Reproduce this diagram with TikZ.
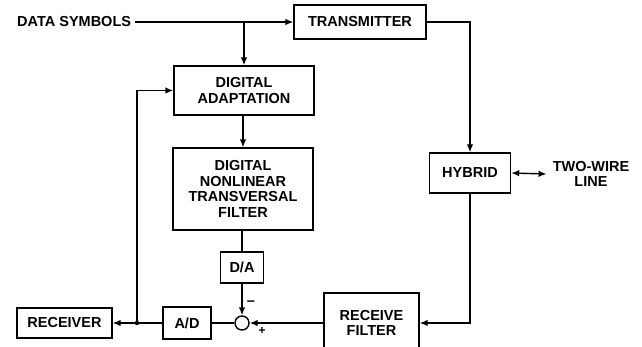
\documentclass[tikz,border=0pt]{standalone}
\usepackage{fontspec}
\setmainfont{Liberation Sans}
\usetikzlibrary{arrows.meta,calc}
\begin{document}
\begin{tikzpicture}[x=1pt,y=-1pt,
  every node/.style={font=\fontsize{14.5}{15.5}\selectfont\bfseries},
  blk/.style={draw,line width=1.4pt,inner sep=0pt,align=center},
  conn/.style={line width=1.4pt},
  tip/.tip={Latex[length=8pt,width=6.5pt]},
  arr/.style={conn,-tip},
  lbl/.style={inner sep=0pt,align=center}]
\useasboundingbox (0,0) rectangle (642,347);
\clip (0,0) rectangle (642,347);
\node[lbl,anchor=west] (ds) at (17,22) {DATA SYMBOLS};
\node[blk,minimum width=132,minimum height=34] (tx) at (360,22) {TRANSMITTER};
\node[blk,minimum width=140,minimum height=49] (da) at (244,90.5) {DIGITAL\\ADAPTATION};
\node[blk,minimum width=140,minimum height=82] (nl) at (243,189) {DIGITAL\\NONLINEAR\\TRANSVERSAL\\FILTER};
\node[blk,minimum width=43,minimum height=31] (dac) at (242,267.5) {D/A};
\node[draw,circle,line width=1.4pt,minimum size=14,inner sep=0pt] (sum) at (242,323) {};
\node[blk,minimum width=48,minimum height=32] (adc) at (187,323) {A/D};
\node[blk,minimum width=95,minimum height=30] (rx) at (64.5,323) {RECEIVER};
\node[blk,minimum width=81,minimum height=40] (hyb) at (470,173) {HYBRID};
\node[blk,minimum width=95,minimum height=60] (rf) at (371.5,323) {RECEIVE\\FILTER};
\node[lbl] (tw) at (591,174) {TWO-WIRE\\LINE};
\node[lbl] (minus) at (251,303) {--};
\node[lbl,font=\fontsize{12}{12}\selectfont\bfseries] (plus) at (262,331) {+};
\coordinate (j) at (137,323);
\coordinate (br) at (ds.east -| da.north);
\draw[arr] ([xshift=4pt]ds.east) -- (tx.west);
\draw[arr] (br) -- (da.north);
\draw[arr] (tx.east) -| (hyb.north);
\draw[arr] (hyb.south) |- (rf.east);
\draw[conn,tip-tip] (hyb.east) -- ([xshift=-6pt]tw.west);
\draw[arr] (rf.west) -- (sum.east);
\draw[arr] (da.south -| nl.north) -- (nl.north);
\draw[conn] (nl.south -| dac.north) -- (dac.north);
\draw[arr] (dac.south) -- (sum.north);
\draw[conn] (sum.west) -- (adc.east);
\draw[conn] (adc.west) -- (j);
\draw[arr] (j) -- (rx.east);
\draw[arr] (j) |- (da.west);
\fill (j) circle (2.2pt);
\end{tikzpicture}
\end{document}
